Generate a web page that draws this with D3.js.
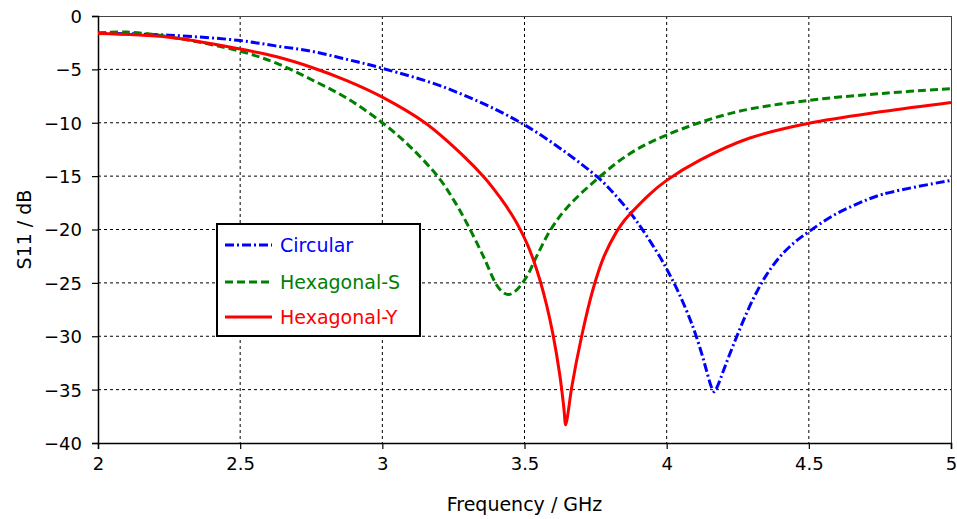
<!DOCTYPE html>
<html>
<head>
<meta charset="utf-8">
<script src="https://cdn.jsdelivr.net/npm/d3@7"></script>
<style>
  html, body { margin: 0; padding: 0; background: #fff; }
  svg { display: block; }
  text { font-family: "DejaVu Sans", Verdana, sans-serif; }
</style>
</head>
<body>
<svg id="chart" width="957" height="519"></svg>
<script>
// ---- data ----
const xTicks = [2, 2.5, 3, 3.5, 4, 4.5, 5];
const yTicks = [0, -5, -10, -15, -20, -25, -30, -35, -40];
const seriesNames = ["Circular", "Hexagonal-S", "Hexagonal-Y"];

const circularFreq = [2.0, 2.25, 2.5, 2.625, 2.75, 2.875, 3.0, 3.23, 3.5, 3.755, 3.82, 3.877, 3.912, 3.977, 4.012, 4.047, 4.082, 4.1, 4.123, 4.14, 4.158, 4.167, 4.18, 4.2, 4.223, 4.25, 4.28, 4.31, 4.35, 4.4, 4.45, 4.5, 4.585, 4.67, 4.76, 5.0];
const circularS11  = [-1.6, -1.8, -2.3, -2.8, -3.3, -4.06, -4.9, -6.8, -10.2, -15.05, -16.8, -18.6, -19.9, -22.6, -24.3, -26.2, -28.4, -29.7, -31.6, -33.2, -34.8, -35.2, -34.6, -33.2, -31.6, -29.8, -27.9, -26.2, -24.3, -22.5, -21.2, -20.2, -18.7, -17.6, -16.7, -15.4];

const hexSFreq = [2.0, 2.1, 2.25, 2.5, 2.625, 2.75, 2.875, 3.0, 3.1, 3.2, 3.25, 3.297, 3.355, 3.402, 3.425, 3.443, 3.467, 3.508, 3.543, 3.59, 3.648, 3.754, 3.87, 4.0, 4.235, 4.5, 4.76, 5.0];
const hexSS11  = [-1.6, -1.5, -1.95, -3.3, -4.4, -5.95, -7.7, -10.0, -12.3, -15.2, -17.2, -19.4, -22.5, -25.2, -25.9, -26.1, -25.8, -24.4, -22.5, -20.1, -18.0, -15.3, -12.9, -11.15, -9.05, -7.9, -7.25, -6.8];

const hexYFreq = [2.0, 2.25, 2.5, 2.625, 2.75, 2.875, 3.0, 3.15, 3.285, 3.361, 3.414, 3.455, 3.487, 3.51, 3.532, 3.555, 3.578, 3.6, 3.624, 3.638, 3.645, 3.653, 3.666, 3.701, 3.741, 3.78, 3.824, 3.85, 3.88, 3.94, 4.0, 4.117, 4.29, 4.5, 4.76, 5.0];
const hexYS11  = [-1.65, -2.0, -3.1, -3.8, -4.8, -6.05, -7.6, -10.0, -13.1, -15.2, -17.0, -18.6, -20.1, -21.4, -22.9, -24.8, -27.1, -29.8, -33.6, -36.6, -38.3, -37.2, -34.8, -30, -25.6, -22.5, -20.2, -19.2, -18.3, -16.7, -15.4, -13.5, -11.45, -10.05, -8.95, -8.1];

// ---- layout ----
const svg = d3.select("#chart");
const L = 98, R = 951, T = 16, B = 443;
const x = d3.scaleLinear().domain([2, 5]).range([L, R]);
const y = d3.scaleLinear().domain([0, -40]).range([T, B]);

const series = [
  { name: seriesNames[0], f: circularFreq, v: circularS11, color: "#0000ff", dash: "9,3,2,3", width: 3 },
  { name: seriesNames[1], f: hexSFreq, v: hexSS11, color: "#008000", dash: "8,4", width: 3 },
  { name: seriesNames[2], f: hexYFreq, v: hexYS11, color: "#ff0000", dash: null, width: 3 }
];

// grid
const grid = svg.append("g");
grid.selectAll("line.gx").data(xTicks.slice(1, -1)).join("line")
  .attr("x1", d => x(d)).attr("x2", d => x(d)).attr("y1", T).attr("y2", B)
  .attr("stroke", "#000").attr("stroke-width", 1).attr("stroke-dasharray", "3,3");
grid.selectAll("line.gy").data(yTicks.slice(1, -1)).join("line")
  .attr("y1", d => y(d)).attr("y2", d => y(d)).attr("x1", L).attr("x2", R)
  .attr("stroke", "#000").attr("stroke-width", 1).attr("stroke-dasharray", "3,3");

// frame top/right
svg.append("line").attr("x1", L).attr("x2", R).attr("y1", T + 0.5).attr("y2", T + 0.5).attr("stroke", "#444").attr("stroke-width", 1);
svg.append("line").attr("x1", R + 0.5).attr("x2", R + 0.5).attr("y1", T).attr("y2", B).attr("stroke", "#444").attr("stroke-width", 1);

// axes
const xAxis = svg.append("g").attr("transform", `translate(0,${B})`)
  .call(d3.axisBottom(x).tickValues(xTicks).tickFormat(d3.format("")).tickSize(6).tickPadding(8));
const yAxis = svg.append("g").attr("transform", `translate(${L},0)`)
  .call(d3.axisLeft(y).tickValues(yTicks).tickFormat(d3.format("")).tickSize(6).tickPadding(10));
[xAxis, yAxis].forEach(a => {
  a.select(".domain").attr("stroke", "#000").attr("stroke-width", 1.5);
  a.selectAll(".tick line").attr("stroke", "#000").attr("stroke-width", 1.2);
  a.selectAll(".tick text").attr("fill", "#000").style("font-size", "18px")
    .style("font-family", '"DejaVu Sans", Verdana, sans-serif');
});
yAxis.selectAll(".tick text").attr("dy", "0.36em");

// axis titles
svg.append("text").attr("x", (L + R) / 2).attr("y", 511).attr("text-anchor", "middle")
  .style("font-size", "19px").attr("fill", "#000").text("Frequency / GHz");
svg.append("text").attr("transform", `translate(31,${(T + B) / 2}) rotate(-90)`).attr("text-anchor", "middle")
  .style("font-size", "19px").attr("fill", "#000").text("S11 / dB");

// lines
const line = d3.line().x(d => x(d[0])).y(d => y(d[1])).curve(d3.curveCatmullRom.alpha(0.5));
svg.append("g").selectAll("path").data(series).join("path")
  .attr("d", s => line(s.f.map((f, i) => [f, s.v[i]])))
  .attr("fill", "none")
  .attr("stroke", s => s.color)
  .attr("stroke-width", s => s.width)
  .attr("stroke-dasharray", s => s.dash);

// legend
const lg = svg.append("g");
lg.append("rect").attr("x", 217).attr("y", 224).attr("width", 203).attr("height", 112)
  .attr("fill", "#fff").attr("stroke", "#000").attr("stroke-width", 2);
const rows = [245, 282, 317];
const item = lg.selectAll("g.item").data(series).join("g").attr("class", "item")
  .attr("transform", (d, i) => `translate(0,${rows[i]})`);
item.append("line").attr("x1", 225).attr("x2", 272).attr("y1", 0).attr("y2", 0)
  .attr("stroke", d => d.color).attr("stroke-width", 3).attr("stroke-dasharray", d => d.dash);
item.append("text").attr("x", 280).attr("y", 0).attr("dy", "0.36em")
  .style("font-size", "19px").attr("fill", d => d.color).text(d => d.name);
</script>
</body>
</html>
